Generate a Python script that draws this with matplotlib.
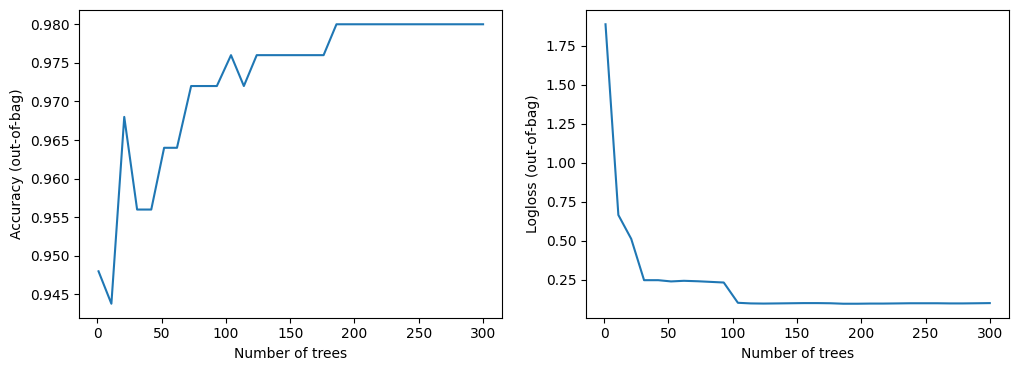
import matplotlib
matplotlib.use("Agg")
import matplotlib.pyplot as plt

# number of trees at each logged step
num_trees = [1, 11, 21, 31, 42, 52, 62, 73, 83, 93,
             104, 114, 124, 135, 145, 155, 166, 176, 186, 197,
             207, 217, 228, 238, 248, 259, 269, 279, 290, 300]

# out-of-bag accuracy
accuracy = [0.948, 0.9438, 0.968, 0.956, 0.956, 0.964, 0.964, 0.972, 0.972, 0.972,
            0.976, 0.972, 0.976, 0.976, 0.976, 0.976, 0.976, 0.976, 0.980, 0.980,
            0.980, 0.980, 0.980, 0.980, 0.980, 0.980, 0.980, 0.980, 0.980, 0.980]

# out-of-bag logloss
logloss = [1.887, 0.664, 0.511, 0.246, 0.246, 0.238, 0.242, 0.239, 0.235, 0.231,
           0.101, 0.097, 0.096, 0.097, 0.098, 0.099, 0.099, 0.098, 0.095, 0.095,
           0.096, 0.096, 0.097, 0.098, 0.098, 0.098, 0.097, 0.097, 0.098, 0.099]

W, H = 1018, 371
fig = plt.figure(figsize=(W / 100, H / 100), dpi=100)

bottom = (H - 317.7) / H
height = 307.4 / H
ax1 = fig.add_axes([79.3 / W, bottom, 423.0 / W, height])
ax2 = fig.add_axes([586.3 / W, bottom, 422.7 / W, height])

ax1.plot(num_trees, accuracy)
ax1.set_xlabel("Number of trees")
ax1.set_ylabel("Accuracy (out-of-bag)")

ax2.plot(num_trees, logloss)
ax2.set_xlabel("Number of trees")
ax2.set_ylabel("Logloss (out-of-bag)")

fig.savefig("out.png", dpi=100)
